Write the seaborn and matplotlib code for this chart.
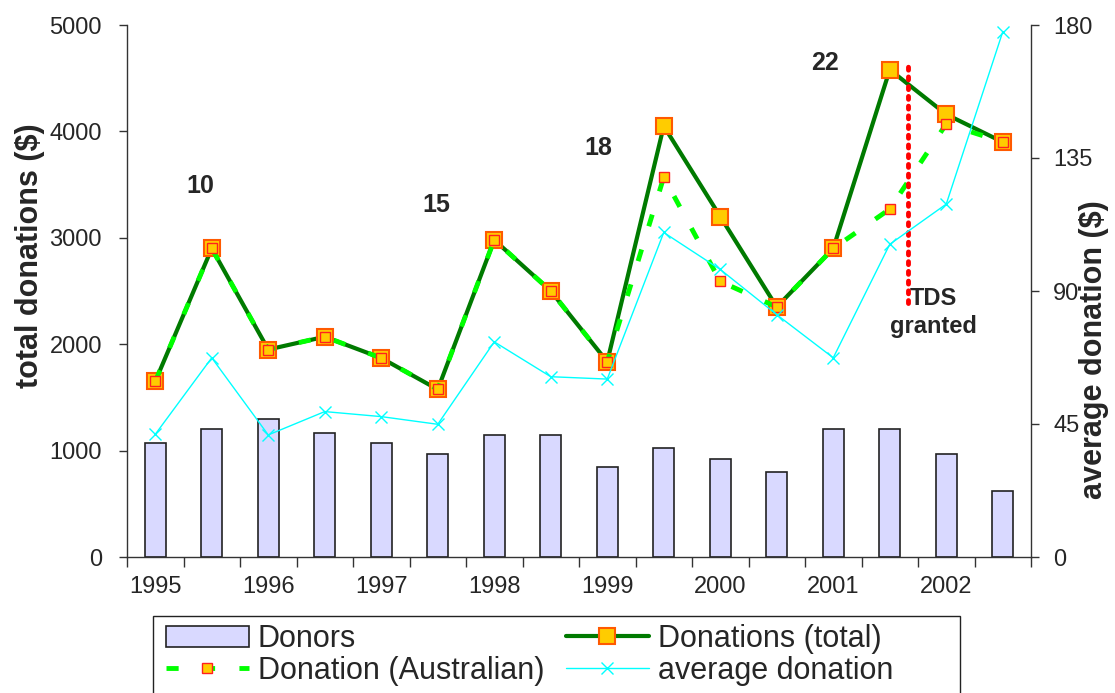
import numpy as np
import pandas as pd
import matplotlib
matplotlib.use('Agg')
import matplotlib.pyplot as plt
from matplotlib.patches import Rectangle
import seaborn as sns

# half-year periods, 1995 .. 2002 (two per year)
years = [1995, 1996, 1997, 1998, 1999, 2000, 2001, 2002]
donors = [1070, 1200, 1300, 1170, 1070, 970, 1150, 1150,
          850, 1020, 920, 800, 1200, 1200, 970, 620]
donations_total = [1650, 2900, 1950, 2070, 1870, 1575, 2980, 2500,
                   1835, 4050, 3200, 2350, 2900, 4580, 4160, 3900]
donations_aus = [1650, 2900, 1950, 2070, 1870, 1575, 2980, 2500,
                 1835, 3570, 2590, 2350, 2900, 3270, 4070, 3900]
avg_donation = [41.5, 67.4, 41.3, 49.2, 47.5, 44.9, 72.8, 61.0,
                60.2, 109.8, 97.3, 82.0, 67.4, 105.8, 119.4, 177.7]

# count labels over the peaks
peak_labels = ['10', '15', '18', '22']
peak_x = [0.8, 4.97, 7.85, 11.85]
peak_y = [3490, 3310, 3845, 4645]

# TDS granted marker
tds_x = 13.32
tds_top, tds_bottom = 4650, 2390

df = pd.DataFrame({
    'pos': np.arange(len(donors)),
    'donors': donors,
    'total': donations_total,
    'aus': donations_aus,
    'avg': avg_donation,
})

sns.set_theme(style='white')
plt.rcParams['font.family'] = ['Liberation Sans', 'DejaVu Sans']

W, H = 1115, 693
fig = plt.figure(figsize=(W / 100, H / 100), dpi=100)
ax = fig.add_axes([127 / W, 1 - 557 / H, 904 / W, 532 / H])

# Donors bars
sns.barplot(data=df, x='pos', y='donors', ax=ax, color='#D9D9FF',
            saturation=1, width=0.38, edgecolor='#222222', linewidth=1.2,
            label='Donors')

# Donations (total)
sns.lineplot(data=df, x='pos', y='total', ax=ax, color='#007A00',
             linewidth=3, marker='s', markersize=11,
             markerfacecolor='#FFCC00', markeredgecolor='#FF5A00',
             markeredgewidth=1.5, label='Donations (total)', zorder=4)

# Donation (Australian)
sns.lineplot(data=df, x='pos', y='aus', ax=ax, color='#00FF00',
             linewidth=3.5, linestyle=(0, (2.5, 5)), marker='s', markersize=7.5,
             markerfacecolor='#FFCC00', markeredgecolor='#FF2020',
             markeredgewidth=1, label='Donation (Australian)', zorder=5)

ax.set_xlim(-0.5, 15.5)
ax.set_ylim(0, 5000)
ax.set_yticks(range(0, 5001, 1000))
ax.set_xticks(np.arange(0, 16, 2))
ax.set_xticklabels([str(y) for y in years])
ax.set_xticks(np.arange(-0.5, 16, 1), minor=True)
ax.tick_params(axis='x', which='major', length=0, pad=14, labelsize=17)
ax.tick_params(axis='x', which='minor', length=7, width=1, color='#333333',
               direction='out', bottom=True)
ax.tick_params(axis='y', length=6, width=1, color='#333333', direction='out',
               left=True, labelsize=17, pad=12)
ax.set_xlabel('')
ax.set_ylabel('')
for s in ['top', 'right']:
    ax.spines[s].set_visible(False)
for s in ['left', 'bottom']:
    ax.spines[s].set_color('#333333')
    ax.spines[s].set_linewidth(1)

for txt, x, y in zip(peak_labels, peak_x, peak_y):
    ax.text(x, y, txt, fontsize=18, fontweight='bold', ha='center', va='center')

ax.plot([tds_x, tds_x], [tds_bottom, tds_top], color='red', linestyle=(0, (0.6, 1.4)),
        linewidth=3.5, dash_capstyle='round', zorder=6)
ax.text(tds_x + 0.45, 2300, 'TDS\ngranted', fontsize=17, fontweight='bold',
        ha='center', va='center', linespacing=1.3)

# average donation on the right axis
ax2 = ax.twinx()
sns.lineplot(data=df, x='pos', y='avg', ax=ax2, color='#00FFFF', linewidth=1,
             marker='x', markersize=9, markeredgewidth=1,
             markeredgecolor='#00FFFF', label='average donation')
ax2.set_ylim(0, 180)
ax2.set_yticks([0, 45, 90, 135, 180])
ax2.set_xlim(-0.5, 15.5)
ax2.tick_params(axis='y', length=6, width=1, color='#333333', direction='out',
                right=True, labelsize=17, pad=10)
ax2.set_ylabel('')
ax2.set_xlabel('')
for s in ['top', 'left', 'bottom']:
    ax2.spines[s].set_visible(False)
ax2.spines['right'].set_color('#333333')
ax2.spines['right'].set_linewidth(1)
ax2.grid(False)
ax.grid(False)

# axis titles
fig.text(30 / W, 1 - 256 / H, 'total donations ($)', rotation=90, fontsize=22,
         fontweight='bold', ha='center', va='center')
fig.text(1094 / W, 1 - 350 / H, 'average donation ($)', rotation=90, fontsize=22,
         fontweight='bold', ha='center', va='center')

# legend: two columns placed separately inside one frame
h1, l1 = ax.get_legend_handles_labels()
h2, l2 = ax2.get_legend_handles_labels()
for a in (ax, ax2):
    if a.get_legend() is not None:
        a.get_legend().remove()
handles = dict(zip(l1 + l2, h1 + h2))
leg_kw = dict(loc='upper left', fontsize=22, frameon=False, handlelength=2.7,
              handletextpad=0.3, labelspacing=0.05, borderpad=0, borderaxespad=0)
col1 = ['Donors', 'Donation (Australian)']
col2 = ['Donations (total)', 'average donation']
fig.legend([handles[k] for k in col1], col1,
           bbox_to_anchor=(166 / W, 1 - 624 / H), **leg_kw)
fig.legend([handles[k] for k in col2], col2,
           bbox_to_anchor=(566 / W, 1 - 624 / H), **leg_kw)
fig.patches.append(Rectangle((153 / W, -0.05), (960 - 153) / W, 0.05 + 1 - 616 / H,
                             transform=fig.transFigure, fill=False,
                             edgecolor='#222222', linewidth=1))

fig.savefig('out.png', dpi=100)
plt.close(fig)
